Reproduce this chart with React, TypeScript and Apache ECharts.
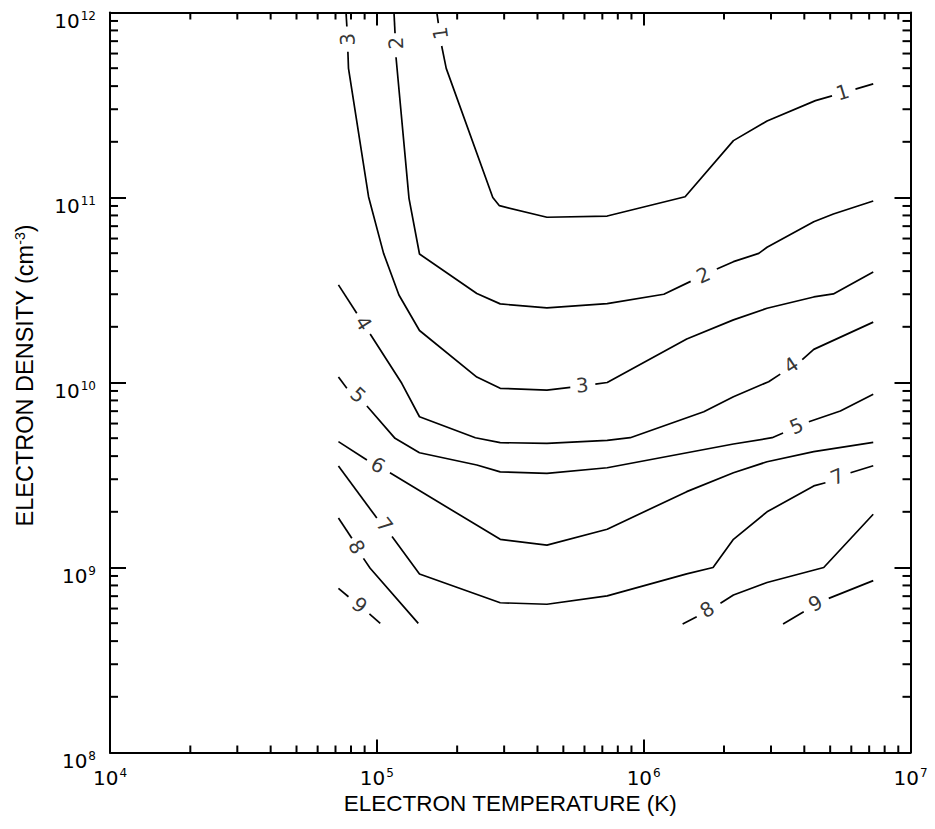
import React, { useEffect, useRef } from 'react';
import * as echarts from 'echarts';

// Axis extents and titles
const xMin = 1e4;
const xMax = 1e7;
const yMin = 1e8;
const yMax = 1e12;
const xTitle = 'ELECTRON TEMPERATURE (K)';
const yTitleMain = 'ELECTRON DENSITY (cm';
const yTitleSup = '-3';

// Minor tick values (log axes)
const xMinorTicks = [
  2e4, 3e4, 4e4, 5e4, 6e4, 7e4, 8e4, 9e4,
  2e5, 3e5, 4e5, 5e5, 6e5, 7e5, 8e5, 9e5,
  2e6, 3e6, 4e6, 5e6, 6e6, 7e6, 8e6, 9e6,
];
const yMinorTicks = [
  2e8, 3e8, 4e8, 5e8, 6e8, 7e8, 8e8, 9e8,
  2e9, 3e9, 4e9, 5e9, 6e9, 7e9, 8e9, 9e9,
  2e10, 3e10, 4e10, 5e10, 6e10, 7e10, 8e10, 9e10,
  2e11, 3e11, 4e11, 5e11, 6e11, 7e11, 8e11, 9e11,
];

// Contour pieces: [temperature K, density cm^-3], broken where labels sit
const level1 = [
  [[1.68e5, 9.9e11], [1.70e5, 8.75e11]],
  [[1.75e5, 6.59e11], [1.82e5, 4.99e11], [2.72e5, 1.0e11], [2.88e5, 9.03e10], [4.34e5, 7.82e10], [7.3e5, 7.94e10], [1.43e6, 1.01e11], [2.17e6, 2.03e11], [2.9e6, 2.59e11], [4.4e6, 3.34e11], [5.08e6, 3.54e11]],
  [[6.22e6, 3.85e11], [7.25e6, 4.11e11]],
];
const level2 = [
  [[1.16e5, 9.9e11], [1.17e5, 7.73e11]],
  [[1.18e5, 5.73e11], [1.32e5, 9.9e10], [1.445e5, 4.95e10], [2.37e5, 3.03e10], [2.9e5, 2.66e10], [4.34e5, 2.53e10], [7.3e5, 2.67e10], [1.19e6, 3.0e10], [1.5e6, 3.52e10]],
  [[1.88e6, 4.11e10], [2.17e6, 4.5e10], [2.7e6, 4.99e10], [2.9e6, 5.38e10], [4.34e6, 7.4e10], [5.14e6, 8.14e10], [7.25e6, 9.58e10]],
];
const level3 = [
  [[7.67e4, 9.9e11], [7.72e4, 8.4e11]],
  [[7.79e4, 6.14e11], [7.83e4, 4.99e11], [9.31e4, 1.01e11], [1.06e5, 4.99e10], [1.21e5, 2.97e10], [1.445e5, 1.91e10], [2.37e5, 1.07e10], [2.9e5, 9.3e9], [4.34e5, 9.1e9], [5.31e5, 9.42e9]],
  [[6.59e5, 9.8e9], [7.3e5, 1.0e10], [1.45e6, 1.72e10], [2.17e6, 2.18e10], [2.9e6, 2.52e10], [4.34e6, 2.9e10], [5.14e6, 3.01e10], [7.25e6, 3.96e10]],
];
const level4 = [
  [[7.18e4, 3.37e10], [8.41e4, 2.37e10]],
  [[9.44e4, 1.83e10], [1.24e5, 9.9e9], [1.445e5, 6.53e9], [2.34e5, 5.03e9], [2.9e5, 4.73e9], [4.34e5, 4.69e9], [7.3e5, 4.87e9], [8.91e5, 5.03e9], [1.68e6, 6.95e9], [2.17e6, 8.37e9], [2.94e6, 1.01e10], [3.25e6, 1.11e10]],
  [[3.93e6, 1.33e10], [4.34e6, 1.51e10], [7.25e6, 2.12e10]],
];
const level5 = [
  [[7.18e4, 1.07e10], [7.72e4, 9.3e9]],
  [[9.18e4, 7.46e9], [1.17e5, 4.99e9], [1.445e5, 4.17e9], [2.37e5, 3.58e9], [2.9e5, 3.29e9], [4.34e5, 3.23e9], [7.3e5, 3.46e9], [2.17e6, 4.65e9], [3.03e6, 5.03e9], [3.33e6, 5.33e9]],
  [[4.16e6, 6.14e9], [5.46e6, 7.01e9], [7.25e6, 8.63e9]],
];
const level6 = [
  [[7.18e4, 4.79e9], [9.18e4, 3.81e9]],
  [[1.12e5, 3.25e9], [2.9e5, 1.42e9], [4.34e5, 1.32e9], [7.3e5, 1.61e9], [1.45e6, 2.57e9], [2.17e6, 3.25e9], [2.9e6, 3.73e9], [4.34e6, 4.23e9], [7.25e6, 4.75e9]],
];
const level7 = [
  [[7.18e4, 3.54e9], [1.0e5, 1.85e9]],
  [[1.14e5, 1.47e9], [1.445e5, 9.23e8], [2.9e5, 6.45e8], [4.34e5, 6.33e8], [7.3e5, 7.02e8], [1.45e6, 9.23e8], [1.82e6, 1.0e9], [2.17e6, 1.42e9], [2.9e6, 2.0e9], [4.34e6, 2.76e9], [4.8e6, 2.87e9]],
  [[5.96e6, 3.25e9], [7.25e6, 3.55e9]],
];
const level8 = [
  [[7.18e4, 1.85e9], [8.06e4, 1.44e9]],
  [[8.91e4, 1.12e9], [9.44e4, 9.9e8], [1.43e5, 4.99e8]],
  [[1.40e6, 4.95e8], [1.58e6, 5.42e8]],
  [[1.94e6, 6.41e8], [2.17e6, 7.1e8], [2.9e6, 8.3e8], [4.73e6, 1.0e9], [7.25e6, 1.94e9]],
];
const level9 = [
  [[7.18e4, 7.72e8], [7.83e4, 6.95e8]],
  [[9.38e4, 5.61e8], [1.03e5, 4.99e8]],
  [[3.33e6, 4.95e8], [3.98e6, 5.77e8]],
  [[4.94e6, 6.81e8], [7.25e6, 8.49e8]],
];
const contourLevels = [level1, level2, level3, level4, level5, level6, level7, level8, level9];

// Contour labels
const labelLevels = [1, 1, 2, 2, 3, 3, 4, 4, 5, 5, 6, 7, 7, 8, 8, 9, 9];
const labelT = [1.73e5, 5.56e6, 1.18e5, 1.67e6, 7.76e4, 5.89e5, 8.91e4, 3.57e6, 8.51e4, 3.74e6, 1.01e5, 1.07e5, 5.31e6, 8.41e4, 1.73e6, 8.61e4, 4.40e6];
const labelN = [7.74e11, 3.71e11, 6.82e11, 3.81e10, 7.16e11, 9.68e9, 2.09e10, 1.24e10, 8.55e9, 5.82e9, 3.58e9, 1.70e9, 3.10e9, 1.29e9, 5.94e8, 6.27e8, 6.41e8];
const labelAngles = [98, 17, 92, 24, 92, 5, -58, 34, -42, 24, -30, -52, 22, -61, 31, -39, 29];

const TITLE_FONT = 'Liberation Sans';
const NUM_FONT = 'DejaVu Sans';

const tickRich = {
  b: { fontSize: 20, fontFamily: NUM_FONT, color: '#000', lineHeight: 22 },
  s: { fontSize: 12, fontFamily: NUM_FONT, color: '#000', lineHeight: 12, verticalAlign: 'top', padding: [0, 0, 0, 1] },
};
const powFormatter = (v: number) => '{b|10}{s|' + Math.round(Math.log10(v)) + '}';

export default function App() {
  const ref = useRef<HTMLDivElement>(null);

  useEffect(() => {
    if (!ref.current) return;
    const chart = echarts.init(ref.current, undefined, { renderer: 'svg' });

    const lineStyle = { color: '#000', width: 1.7 };
    const series: any[] = [];
    contourLevels.forEach((pieces, li) => {
      pieces.forEach((piece, pi) => {
        series.push({
          type: 'line',
          name: 'level ' + (li + 1),
          id: 'c' + (li + 1) + '_' + pi,
          data: piece,
          symbol: 'none',
          lineStyle,
          silent: true,
          z: 2,
        });
      });
    });

    series.push({
      type: 'scatter',
      name: 'labels',
      symbolSize: 1,
      itemStyle: { color: 'rgba(0,0,0,0)' },
      silent: true,
      z: 4,
      data: labelLevels.map((lv, i) => ({
        value: [labelT[i], labelN[i], lv],
        label: { rotate: labelAngles[i] },
      })),
      label: {
        show: true,
        position: 'inside',
        align: 'center',
        verticalAlign: 'middle',
        formatter: (p: any) => String(p.value[2]),
        color: '#000',
        textBorderWidth: 0,
        fontSize: 20,
        fontFamily: NUM_FONT,
      },
    });

    const tickStyle = { stroke: '#000', lineWidth: 2 };
    series.push({
      type: 'custom',
      name: 'xMinor',
      silent: true,
      z: 3,
      data: xMinorTicks.map((v) => [v, yMin]),
      renderItem: (_p: any, api: any) => {
        const v = api.value(0);
        const b = api.coord([v, yMin]);
        const t = api.coord([v, yMax]);
        return {
          type: 'group',
          children: [
            { type: 'line', shape: { x1: b[0], y1: b[1], x2: b[0], y2: b[1] - 7 }, style: tickStyle },
            { type: 'line', shape: { x1: t[0], y1: t[1], x2: t[0], y2: t[1] + 7 }, style: tickStyle },
          ],
        };
      },
    });
    series.push({
      type: 'custom',
      name: 'yMinor',
      silent: true,
      z: 3,
      data: yMinorTicks.map((v) => [xMin, v]),
      renderItem: (_p: any, api: any) => {
        const v = api.value(1);
        const l = api.coord([xMin, v]);
        const r = api.coord([xMax, v]);
        return {
          type: 'group',
          children: [
            { type: 'line', shape: { x1: l[0], y1: l[1], x2: l[0] + 8, y2: l[1] }, style: tickStyle },
            { type: 'line', shape: { x1: r[0], y1: r[1], x2: r[0] - 8, y2: r[1] }, style: tickStyle },
          ],
        };
      },
    });

    const axisLine = { show: true, lineStyle: { color: '#000', width: 2 } };

    chart.setOption({
      animation: false,
      backgroundColor: '#fff',
      grid: { left: 110, right: 24.5, top: 12.5, bottom: 76.5, containLabel: false },
      xAxis: [
        {
          type: 'log',
          logBase: 10,
          min: xMin,
          max: xMax,
          position: 'bottom',
          axisLine,
          axisTick: { show: true, inside: true, length: 13, lineStyle: { color: '#000', width: 2 } },
          axisLabel: { show: true, margin: 14, formatter: powFormatter, rich: tickRich },
          splitLine: { show: false },
          minorTick: { show: false },
          name: xTitle,
          nameLocation: 'middle',
          nameGap: 37,
          nameTextStyle: { fontSize: 22.5, fontFamily: TITLE_FONT, color: '#000' },
        },
        {
          type: 'log',
          logBase: 10,
          min: xMin,
          max: xMax,
          position: 'top',
          axisLine,
          axisTick: { show: true, inside: true, length: 13, lineStyle: { color: '#000', width: 2 } },
          axisLabel: { show: false },
          splitLine: { show: false },
        },
      ],
      yAxis: [
        {
          type: 'log',
          logBase: 10,
          min: yMin,
          max: yMax,
          position: 'left',
          axisLine,
          axisTick: { show: true, inside: true, length: 16, lineStyle: { color: '#000', width: 2 } },
          axisLabel: { show: true, margin: 14, padding: [16, 0, 0, 0], formatter: powFormatter, rich: tickRich },
          splitLine: { show: false },
          name: '{b|' + yTitleMain + '}{s|' + yTitleSup + '}{b|)}',
          nameLocation: 'middle',
          nameRotate: 90,
          nameGap: 73,
          nameTextStyle: {
            padding: [0, 0, 0, 14],
            rich: {
              b: { fontSize: 23.5, fontFamily: TITLE_FONT, color: '#000', lineHeight: 24 },
              s: { fontSize: 14, fontFamily: TITLE_FONT, color: '#000', lineHeight: 12, verticalAlign: 'top' },
            },
          },
        },
        {
          type: 'log',
          logBase: 10,
          min: yMin,
          max: yMax,
          position: 'right',
          axisLine,
          axisTick: { show: true, inside: true, length: 16, lineStyle: { color: '#000', width: 2 } },
          axisLabel: { show: false },
          splitLine: { show: false },
        },
      ],
      series,
    });

    return () => chart.dispose();
  }, []);

  return (
    <div
      ref={ref}
      style={{ position: 'absolute', left: 0, top: 0, width: 935, height: 829, background: '#fff' }}
    />
  );
}
